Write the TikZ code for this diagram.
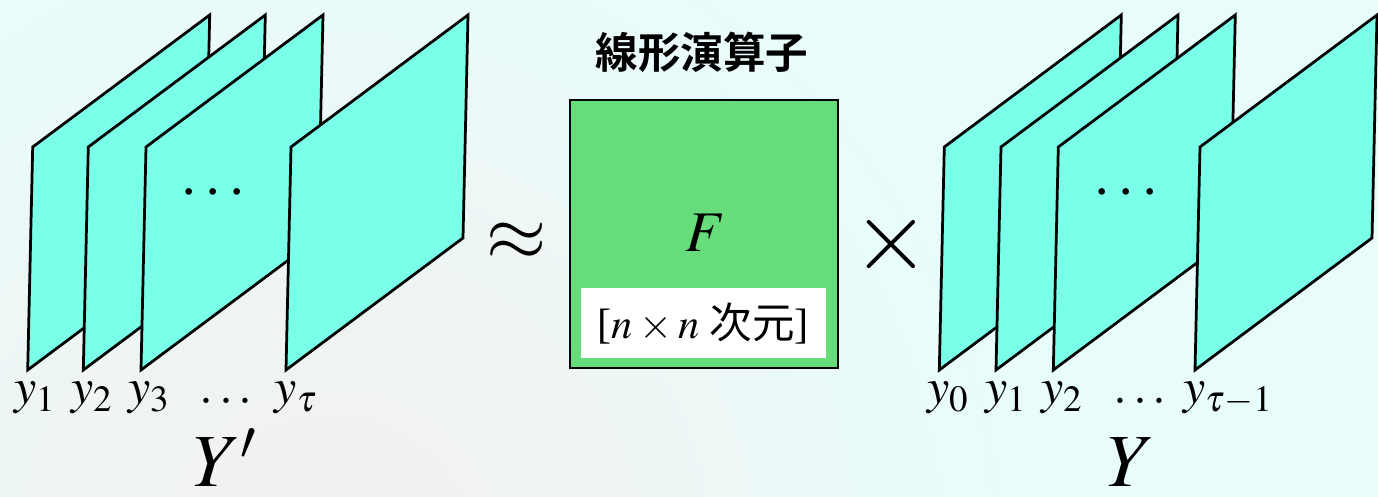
\documentclass[tikz,border=0pt]{standalone}
\usepackage{mathptmx}
\usepackage{fontspec}
\setmainfont{Liberation Serif}
\newfontfamily\cjk{Noto Sans CJK JP}[BoldFont={Noto Sans CJK JP Bold}]
\definecolor{bgc}{RGB}{232,252,252}
\definecolor{warmc}{RGB}{242,240,238}
\definecolor{sheetc}{RGB}{122,255,233}
\definecolor{boxc}{RGB}{102,221,122}
\newcommand\drawsheet[1]{%
  \draw[sheetline] (#1,370) -- ++(5,-223) -- ++(177,-132) -- ++(-5,223) -- cycle;}
\begin{document}
\begin{tikzpicture}[x=0.4pt,y=-0.4pt,
  sheetline/.style={draw=black,fill=sheetc,line width=1.1pt,line join=miter},
  lab/.style={anchor=base,inner sep=0pt,font=\fontsize{20}{24}\selectfont},
  big/.style={anchor=base,inner sep=0pt,font=\fontsize{30}{36}\selectfont},
  op/.style={inner sep=0pt}]
\useasboundingbox (0,0) rectangle (1378,497);
\fill[bgc] (0,0) rectangle (1378,497);
\begin{scope}
\clip (0,0) rectangle (1378,497);
\shade[inner color=warmc,outer color=bgc] (330,560) circle (700);
\end{scope}
% left stack
\drawsheet{27.7}
\drawsheet{83.3}
\drawsheet{141}
\node[inner sep=0pt,font=\fontsize{25}{30}\selectfont] (ldots) at (213,194) {$\cdots$};
\drawsheet{286}
\node[lab] (a1) at (35,404) {$y_1$};
\node[lab] (a2) at (92,404) {$y_2$};
\node[lab] (a3) at (149,404) {$y_3$};
\node[lab] (a4) at (226,404) {$\ldots$};
\node[lab] (a5) at (296,404) {$y_\tau$};
\node[big] (Yp) at (225,487) {$Y'$};
% operators
\node[op,font=\fontsize{31}{36}\selectfont] (approx) at (516.7,241.7) {$\approx$};
\node[op,font=\fontsize{40}{48}\selectfont] (times) at (891.7,245) {$\times$};
% center box
\node[inner sep=0pt] (title) at (702,52) {\fontsize{17}{20}\selectfont\cjk\bfseries 線形演算子};
\node[draw=black,fill=boxc,line width=0.9pt,minimum width=107.3pt,minimum height=107.1pt,inner sep=0pt] (F) at (704.2,233.9) {};
\node[inner sep=0pt,font=\fontsize{23}{28}\selectfont] (Flab) at (705,233) {$F$};
\node[fill=white,minimum width=97.9pt,minimum height=28pt,inner sep=0pt,font=\fontsize{17}{20}\selectfont] (dim) at (703.4,323.3) {[$n\times n$ {\cjk 次元}]};
% right stack
\drawsheet{939.3}
\drawsheet{996}
\drawsheet{1053.3}
\node[inner sep=0pt,font=\fontsize{25}{30}\selectfont] (rdots) at (1126,194) {$\cdots$};
\drawsheet{1195}
\node[lab] (b1) at (948,404) {$y_0$};
\node[lab] (b2) at (1006,404) {$y_1$};
\node[lab] (b3) at (1062,404) {$y_2$};
\node[lab] (b4) at (1140,404) {$\ldots$};
\node[lab] (b5) at (1228,404) {$y_{\tau-1}$};
\node[big] (Y) at (1131,487) {$Y$};
\end{tikzpicture}
\end{document}
